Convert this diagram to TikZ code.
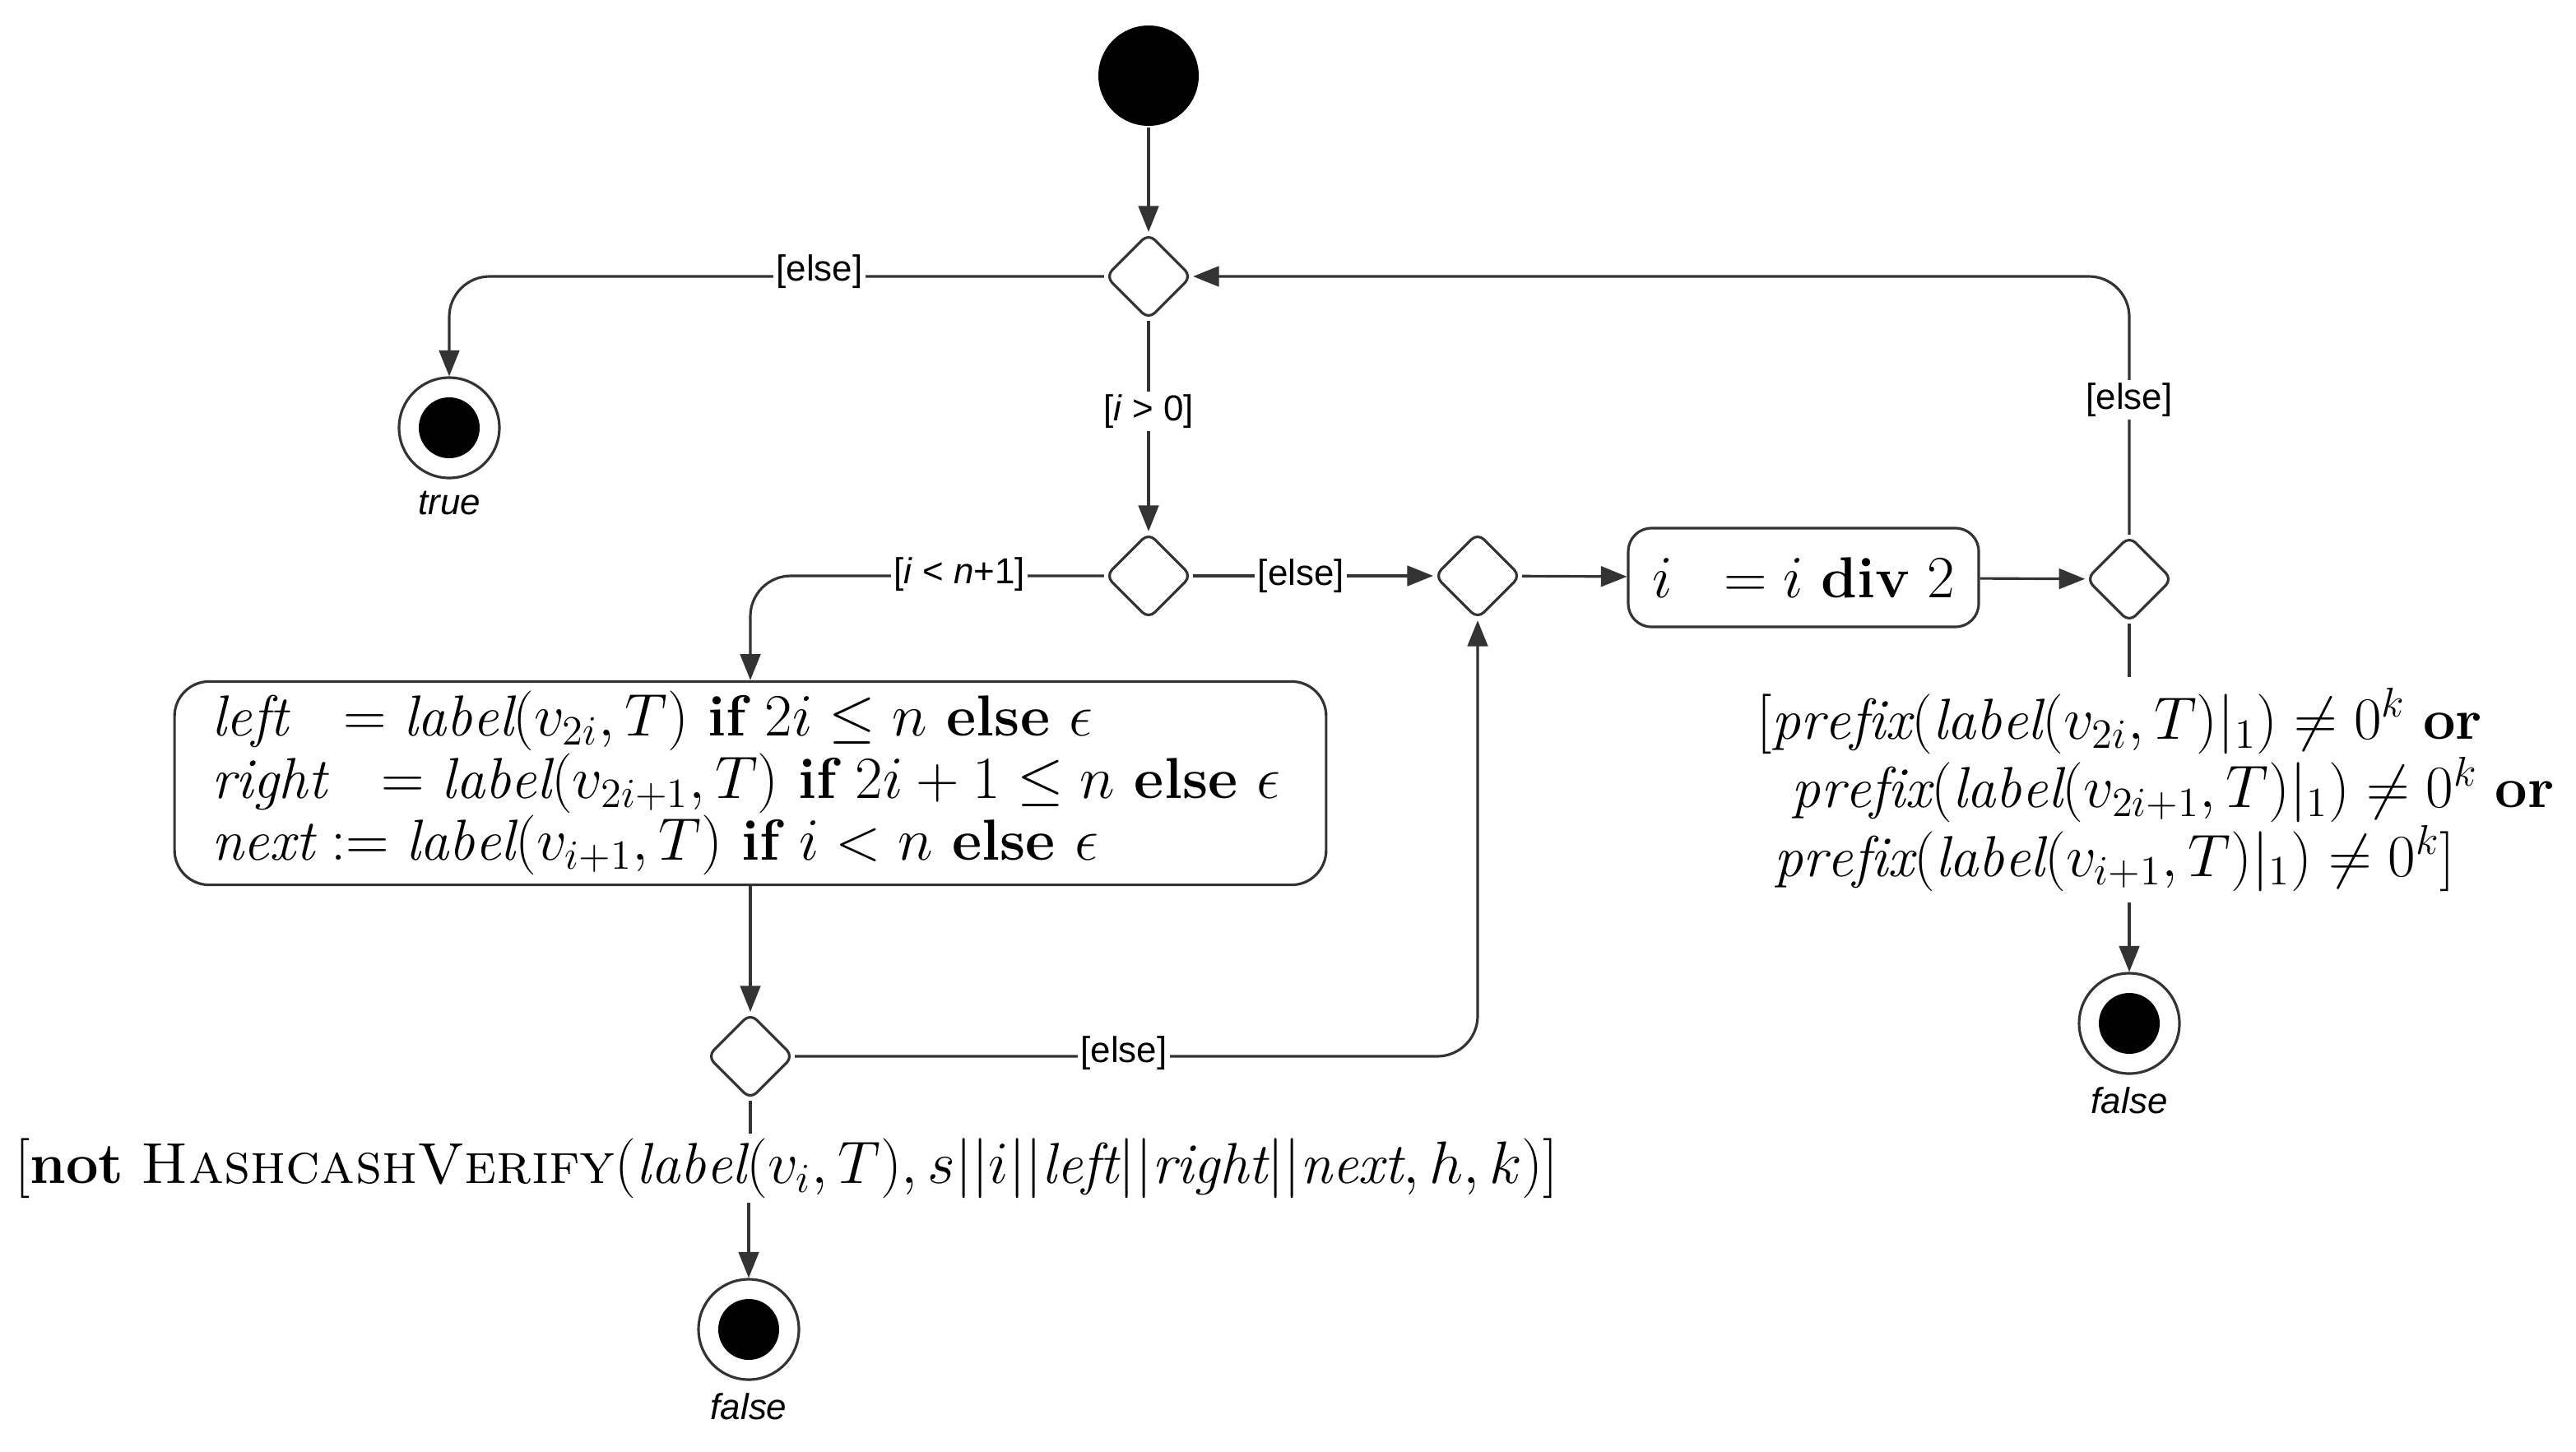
\documentclass[tikz,border=0pt]{standalone}
\usepackage{amsmath,amssymb}
\usepackage{fontspec}
\newfontfamily\lab{Liberation Sans}
\usetikzlibrary{arrows.meta,shapes.geometric}
\begin{document}
\begin{tikzpicture}[x=0.02cm,y=-0.02cm,
  line width=0.9pt, draw=black!80,
  arr/.style={-{Triangle[length=9pt,width=7pt]}},
  dec/.style={diamond,draw,minimum size=1.05cm,inner sep=0pt,rounded corners=3pt},
  act/.style={draw,rounded corners=12pt,align=left,font=\fontsize{20}{21.5}\selectfont},
  lbl/.style={fill=white,inner sep=1pt,font=\lab\fontsize{12.5}{14}\selectfont},
  flab/.style={font=\lab\itshape\fontsize{12.5}{14}\selectfont},
  guard/.style={align=left,font=\fontsize{20}{22.5}\selectfont},
  endn/.style={circle,draw,minimum size=1.22cm,inner sep=0pt,path picture={\fill[black] (path picture bounding box.center) circle (0.37cm);}},
  startn/.style={circle,fill=black,minimum size=1.22cm,inner sep=0pt}]
\useasboundingbox (0,0) rectangle (1565.5,882);
\node[startn] (s) at (698,46) {};
\node[dec] (d1) at (698,168) {};
\node[dec] (d2) at (698,350) {};
\node[dec] (d3) at (898,350) {};
\node[dec] (d4) at (1294,352) {};
\node[dec] (d5) at (456,642) {};
\node[endn] (e1) at (273,260) {};
\node[flab] (t1) at (273,306) {true};
\node[endn] (e2) at (1294,622) {};
\node[flab] (t2) at (1294,669) {false};
\node[endn] (e3) at (455,808) {};
\node[flab] (t3) at (455,855) {false};
\node[act,minimum width=14cm,minimum height=2.44cm,text width=13.1cm] (b1) at (456,476) {%
$\mathit{left}\ \ = \mathit{label}(v_{2i},T)\ \textbf{if}\ 2i \le n\ \textbf{else}\ \epsilon$\\
$\mathit{right}\ \ = \mathit{label}(v_{2i+1},T)\ \textbf{if}\ 2i+1 \le n\ \textbf{else}\ \epsilon$\\
$\mathit{next} := \mathit{label}(v_{i+1},T)\ \textbf{if}\ i < n\ \textbf{else}\ \epsilon$};
\node[act,minimum width=4.26cm,minimum height=1.2cm,rounded corners=8pt] (b2) at (1096,351) {$i\ \ = i\ \textbf{div}\ 2$};
\node[guard] (g4) at (1310,480) {%
$[\mathit{prefix}(\mathit{label}(v_{2i},T)|_1) \neq 0^k\ \textbf{or}$\\
$\ \ \mathit{prefix}(\mathit{label}(v_{2i+1},T)|_1) \neq 0^k\ \textbf{or}$\\
$\ \mathit{prefix}(\mathit{label}(v_{i+1},T)|_1) \neq 0^k]$};
\node[guard,fill=white,inner sep=1pt] (g5) at (478,710) {$[\textbf{not}\ \textsc{HashcashVerify}(\mathit{label}(v_i,T), s||i||\mathit{left}||\mathit{right}||\mathit{next},h,k)]$};
\draw[arr] (s) -- (d1);
\draw[arr,rounded corners=14pt] (d1.west) -- (273,168) -- (e1.north);
\node[lbl] at (498,165) {[else]};
\draw[arr] (d1) -- node[lbl,pos=0.43]{[\textit{i} > 0]} (d2);
\draw[arr,rounded corners=14pt] (d2.west) -- (456,350) -- (b1.north);
\node[lbl] at (583,349) {[\textit{i} < \textit{n}+1]};
\draw[arr] (d2) -- node[lbl,pos=0.45]{[else]} (d3);
\draw[arr] (d3) -- (b2);
\draw[arr] (b2) -- (d4);
\draw[arr,rounded corners=14pt] (d4.north) -- (1294,168) -- (d1.east);
\node[lbl] at (1294,243) {[else]};
\draw (d4.south) -- (g4.north -| d4);
\draw[arr] (g4.south -| e2) -- (e2);
\draw[arr] (b1) -- (d5);
\draw[arr,rounded corners=14pt] (d5.east) -- (898,642) -- (d3.south);
\node[lbl] at (683,640) {[else]};
\draw (d5.south) -- (g5.north -| d5);
\draw[arr] (g5.south -| e3) -- (e3);
\end{tikzpicture}
\end{document}
